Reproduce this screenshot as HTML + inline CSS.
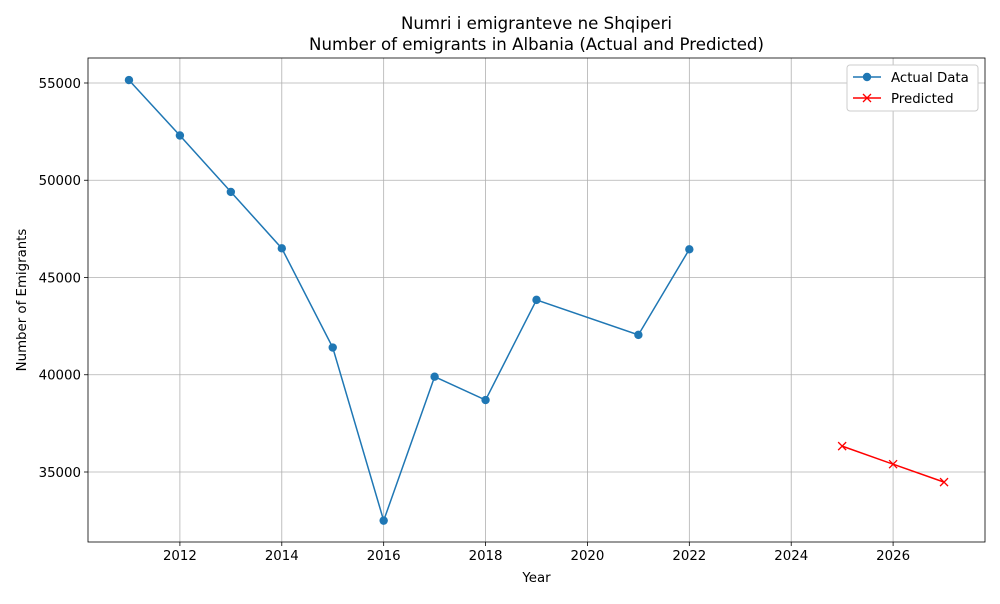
<!DOCTYPE html>
<html><head><meta charset="utf-8"><style>
body{margin:0;background:#fff;font-family:"DejaVu Sans",sans-serif}
</style></head><body>
<svg id="chart" width="1000" height="600" xmlns="http://www.w3.org/2000/svg" font-family="DejaVu Sans, sans-serif"></svg>
<script>
const actualYears=[2011,2012,2013,2014,2015,2016,2017,2018,2019,2021,2022];
const actualValues=[55150,52300,49400,46500,41400,32500,39900,38700,43850,42050,46450];
const predYears=[2025,2026,2027];
const predValues=[36330,35400,34480];
const xTicks=[2012,2014,2016,2018,2020,2022,2024,2026];
const yTicks=[35000,40000,45000,50000,55000];

const L=88,R=985,T=58,B=542;
const x0=2010.196,x1=2027.804,y0=31401,y1=56285;
const sx=v=>L+(v-x0)/(x1-x0)*(R-L);
const sy=v=>B-(v-y0)/(y1-y0)*(B-T);
const svg=document.getElementById('chart');
const NS='http://www.w3.org/2000/svg';
function mk(tag,attrs,parent){const e=document.createElementNS(NS,tag);for(const k in attrs)e.setAttribute(k,attrs[k]);(parent||svg).appendChild(e);return e;}

xTicks.forEach(t=>{
  const g=mk('g',{});
  
  
  mk('line',{x1:sx(t),x2:sx(t),y1:T,y2:B,stroke:'#b0b0b0','stroke-width':0.8},g);
  mk('line',{x1:sx(t),x2:sx(t),y1:B,y2:B+4,stroke:'#000','stroke-width':0.8},g);
  const tx=mk('text',{x:sx(t),y:B+18,'text-anchor':'middle','font-size':13.33},g);tx.textContent=t;
});
yTicks.forEach(t=>{
  const g=mk('g',{});
  
  
  mk('line',{x1:L,x2:R,y1:sy(t),y2:sy(t),stroke:'#b0b0b0','stroke-width':0.8},g);
  mk('line',{x1:L-4,x2:L,y1:sy(t),y2:sy(t),stroke:'#000','stroke-width':0.8},g);
  const tx=mk('text',{x:L-7,y:sy(t)+5,'text-anchor':'end','font-size':13.33},g);tx.textContent=t;
});
const frame=mk('rect',{x:L,y:T,width:R-L,height:B-T,fill:'none',stroke:'#000','stroke-width':0.8});



const la=mk('polyline',{points:actualYears.map((y,i)=>sx(y)+','+sy(actualValues[i])).join(' '),fill:'none',stroke:'#1f77b4','stroke-width':1.5});


actualYears.forEach((y,i)=>{
  const c=mk('circle',{cx:sx(y),cy:sy(actualValues[i]),r:4.2,fill:'#1f77b4'});
  
  
});
const lp=mk('polyline',{points:predYears.map((y,i)=>sx(y)+','+sy(predValues[i])).join(' '),fill:'none',stroke:'#ff0000','stroke-width':1.5});


function cross(cx,cy,g){mk('path',{d:`M${cx-4},${cy-4}L${cx+4},${cy+4}M${cx-4},${cy+4}L${cx+4},${cy-4}`,stroke:'#ff0000','stroke-width':1.3,fill:'none'},g);}
predYears.forEach((y,i)=>{
  const g=mk('g',{});
  
  
  cross(sx(y),sy(predValues[i]),g);
});

function text(str,attrs,name){const t=mk('text',attrs);t.textContent=str;}
text('Numri i emigranteve ne Shqiperi',{x:(L+R)/2,y:29,'text-anchor':'middle','font-size':16.6},'chart-title');
text('Number of emigrants in Albania (Actual and Predicted)',{x:(L+R)/2,y:50,'text-anchor':'middle','font-size':16.6},'chart-subtitle');
text('Year',{x:(L+R)/2,y:582,'text-anchor':'middle','font-size':13.33},'x-axis-title');
text('Number of Emigrants',{x:0,y:0,'text-anchor':'middle','font-size':13.33,transform:`translate(26,${(T+B)/2}) rotate(-90)`},'y-axis-title');

const lg=mk('g',{});


mk('rect',{x:847,y:65,width:131,height:46,rx:3,fill:'#fff',stroke:'#ccc','stroke-width':1},lg);
const e1=mk('g',{},lg);


mk('line',{x1:853,x2:881,y1:77,y2:77,stroke:'#1f77b4','stroke-width':1.5},e1);
mk('circle',{cx:867,cy:77,r:4.2,fill:'#1f77b4'},e1);
const t1=mk('text',{x:891,y:82,'font-size':13.33},e1);t1.textContent='Actual Data';
const e2=mk('g',{},lg);


mk('line',{x1:853,x2:881,y1:98,y2:98,stroke:'#ff0000','stroke-width':1.5},e2);
cross(867,98,e2);
const t2=mk('text',{x:891,y:103,'font-size':13.33},e2);t2.textContent='Predicted';
</script>
</body></html>
